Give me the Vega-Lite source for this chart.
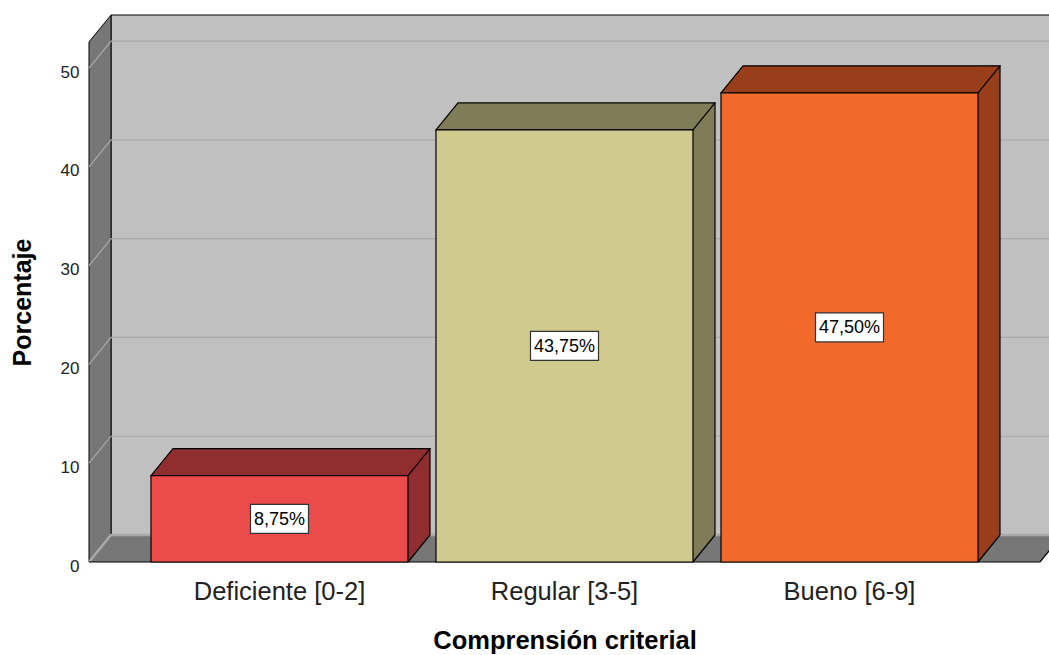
{
  "$schema": "https://vega.github.io/schema/vega-lite/v6.json",
  "autosize": {"type": "none"},
  "width": 951,
  "height": 520,
  "padding": {"left": 89, "top": 42, "right": 9, "bottom": 93},
  "background": "white",
  "config": {
    "view": {"stroke": null},
    "font": "Liberation Sans",
    "axis": {"ticks": false, "tickSize": 0, "domain": false, "grid": false, "titleFontSize": 25, "titleFontWeight": "bold", "titleColor": "#000000", "titlePadding": 25, "labelColor": "#222222"},
    "axisX": {"labelAngle": 0, "labelFontSize": 25.5, "labelPadding": 17, "labelLimit": 0, "titleFontSize": 25.5, "titlePadding": 24},
    "axisY": {"labelFontSize": 17, "labelPadding": 10, "labelOffset": 4}
  },
  "data": {"values": [
    {"categoria": "Deficiente [0-2]", "porcentaje": 8.75, "etiqueta": "8,75%"},
    {"categoria": "Regular [3-5]", "porcentaje": 43.75, "etiqueta": "43,75%"},
    {"categoria": "Bueno [6-9]", "porcentaje": 47.5, "etiqueta": "47,50%"}
  ]},
  "layer": [
    {
      "layer": [
        {
          "data": {"values": [{}]},
          "mark": {"type": "point", "shape": "M22,-27V-547H973V-27Z", "size": 4, "filled": true, "fill": "#c0c0c0", "stroke": "#000000", "strokeWidth": 1, "opacity": 1},
          "encoding": {
            "x": {"value": 0},
            "y": {"datum": 0, "type": "quantitative", "scale": {"domain": [0, 52.65], "nice": false}, "title": "Porcentaje"}
          }
        },
        {
          "data": {"values": [{}]},
          "mark": {"type": "point", "shape": "M0,0H951L973,-27H22Z", "size": 4, "filled": true, "fill": "#777777", "strokeWidth": 0, "opacity": 1},
          "encoding": {
            "x": {"value": 0},
            "y": {"datum": 0, "type": "quantitative", "scale": {"domain": [0, 52.65], "nice": false}, "title": "Porcentaje"}
          }
        },
        {
          "data": {"values": [{}]},
          "mark": {"type": "point", "shape": "M0,0V-520L22,-547V-27Z", "size": 4, "filled": true, "fill": "#777777", "stroke": "#000000", "strokeWidth": 1, "opacity": 1},
          "encoding": {
            "x": {"value": 0},
            "y": {"datum": 0, "type": "quantitative", "scale": {"domain": [0, 52.65], "nice": false}, "title": "Porcentaje"}
          }
        },
        {
          "data": {"values": [{"v": 0}, {"v": 10}, {"v": 20}, {"v": 30}, {"v": 40}, {"v": 50}]},
          "mark": {"type": "point", "shape": "M0,0L22,-27H973", "size": 4, "filled": false, "stroke": "#a9a9a9", "opacity": 1},
          "encoding": {
            "x": {"value": 0},
            "y": {"field": "v", "type": "quantitative", "scale": {"domain": [0, 52.65], "nice": false}, "title": "Porcentaje"},
            "strokeWidth": {"condition": {"test": "datum.v === 0", "value": 2.5}, "value": 1.2}
          }
        },
        {
          "data": {"values": [{}]},
          "mark": {"type": "point", "shape": "M0,0H951L973,-27", "size": 4, "filled": false, "stroke": "#000000", "strokeWidth": 1.2, "opacity": 1},
          "encoding": {
            "x": {"value": 0},
            "y": {"datum": 0, "type": "quantitative", "scale": {"domain": [0, 52.65], "nice": false}, "title": "Porcentaje"}
          }
        },
        {
          "mark": {"type": "rule", "strokeWidth": 22, "strokeCap": "butt", "xOffset": 139.5, "yOffset": -27, "y2Offset": -27, "opacity": 1},
          "encoding": {
            "x": {"field": "categoria", "type": "nominal", "sort": null, "scale": {"type": "band", "paddingInner": 0.09825, "paddingOuter": 0.2175}, "title": "Comprensión criterial"},
            "y": {"field": "porcentaje", "type": "quantitative", "scale": {"domain": [0, 52.65], "nice": false}, "title": "Porcentaje"},
            "y2": {"datum": 0},
            "color": {"field": "categoria", "type": "nominal", "sort": null, "scale": {"domain": ["Deficiente [0-2]", "Regular [3-5]", "Bueno [6-9]"], "range": ["#8f2d2f", "#807c57", "#983e1a"]}, "legend": null}
          }
        },
        {
          "mark": {"type": "point", "shape": "M128.5,-27V0L150.5,-27Z", "size": 4, "filled": true, "strokeWidth": 0, "opacity": 1},
          "encoding": {
            "x": {"field": "categoria", "type": "nominal", "sort": null, "scale": {"type": "band", "paddingInner": 0.09825, "paddingOuter": 0.2175}, "title": "Comprensión criterial"},
            "y": {"datum": 0, "type": "quantitative", "scale": {"domain": [0, 52.65], "nice": false}, "title": "Porcentaje"},
            "color": {"field": "categoria", "type": "nominal", "sort": null, "scale": {"domain": ["Deficiente [0-2]", "Regular [3-5]", "Bueno [6-9]"], "range": ["#8f2d2f", "#807c57", "#983e1a"]}, "legend": null}
          }
        },
        {
          "mark": {"type": "rule", "strokeWidth": 1.2, "color": "#000000", "xOffset": 150.5, "yOffset": -27, "y2Offset": -27, "opacity": 1},
          "encoding": {
            "x": {"field": "categoria", "type": "nominal", "sort": null, "scale": {"type": "band", "paddingInner": 0.09825, "paddingOuter": 0.2175}, "title": "Comprensión criterial"},
            "y": {"field": "porcentaje", "type": "quantitative", "scale": {"domain": [0, 52.65], "nice": false}, "title": "Porcentaje"},
            "y2": {"datum": 0}
          }
        },
        {
          "mark": {"type": "point", "shape": "M128.5,0L150.5,-27", "size": 4, "filled": false, "stroke": "#000000", "strokeWidth": 1.2, "opacity": 1},
          "encoding": {
            "x": {"field": "categoria", "type": "nominal", "sort": null, "scale": {"type": "band", "paddingInner": 0.09825, "paddingOuter": 0.2175}, "title": "Comprensión criterial"},
            "y": {"datum": 0, "type": "quantitative", "scale": {"domain": [0, 52.65], "nice": false}, "title": "Porcentaje"}
          }
        },
        {
          "mark": {"type": "point", "shape": "M-128.5,0H128.5L150.5,-27H-106.5Z", "size": 4, "filled": true, "stroke": "#000000", "strokeWidth": 1.2, "opacity": 1},
          "encoding": {
            "x": {"field": "categoria", "type": "nominal", "sort": null, "scale": {"type": "band", "paddingInner": 0.09825, "paddingOuter": 0.2175}, "title": "Comprensión criterial"},
            "y": {"field": "porcentaje", "type": "quantitative", "scale": {"domain": [0, 52.65], "nice": false}, "title": "Porcentaje"},
            "color": {"field": "categoria", "type": "nominal", "sort": null, "scale": {"domain": ["Deficiente [0-2]", "Regular [3-5]", "Bueno [6-9]"], "range": ["#8f2d2f", "#807c57", "#983e1a"]}, "legend": null}
          }
        },
        {
          "mark": {"type": "bar", "stroke": "#000000", "strokeWidth": 1.2, "opacity": 1},
          "encoding": {
            "x": {"field": "categoria", "type": "nominal", "sort": null,
              "scale": {"type": "band", "paddingInner": 0.09825, "paddingOuter": 0.2175},
              "title": "Comprensión criterial"},
            "y": {"field": "porcentaje", "type": "quantitative", "scale": {"domain": [0, 52.65], "nice": false},
              "title": "Porcentaje",
              "axis": {"values": [0, 10, 20, 30, 40, 50]}},
            "fill": {"field": "categoria", "type": "nominal", "sort": null, "scale": {"domain": ["Deficiente [0-2]", "Regular [3-5]", "Bueno [6-9]"], "range": ["#ec4b4c", "#d0ca8f", "#f26a2b"]}, "legend": null}
          }
        }
      ]
    },
    {
      "layer": [
        {
          "mark": {"type": "point", "size": 4, "filled": true, "fill": "#ffffff", "stroke": "#333333", "strokeWidth": 1.2, "opacity": 1},
          "encoding": {
            "x": {"field": "categoria", "type": "nominal", "sort": null, "scale": {"type": "band", "paddingInner": 0.09825, "paddingOuter": 0.2175}, "title": "Comprensión criterial"},
            "y": {"field": "porcentaje", "type": "quantitative", "scale": {"domain": [0, 105.3], "nice": false}, "axis": null},
            "shape": {"condition": {"test": "datum.porcentaje < 10", "value": "M-29,-14.5H29V14.5H-29Z"}, "value": "M-34,-14.5H34V14.5H-34Z"}
          }
        },
        {
          "mark": {"type": "text", "fontSize": 18, "color": "#000000", "align": "center", "baseline": "middle", "dy": 1},
          "encoding": {
            "x": {"field": "categoria", "type": "nominal", "sort": null, "scale": {"type": "band", "paddingInner": 0.09825, "paddingOuter": 0.2175}, "title": "Comprensión criterial"},
            "y": {"field": "porcentaje", "type": "quantitative", "scale": {"domain": [0, 105.3], "nice": false}, "axis": null},
            "text": {"field": "etiqueta", "type": "nominal"}
          }
        }
      ]
    }
  ],
  "resolve": {"scale": {"y": "independent"}}
}
